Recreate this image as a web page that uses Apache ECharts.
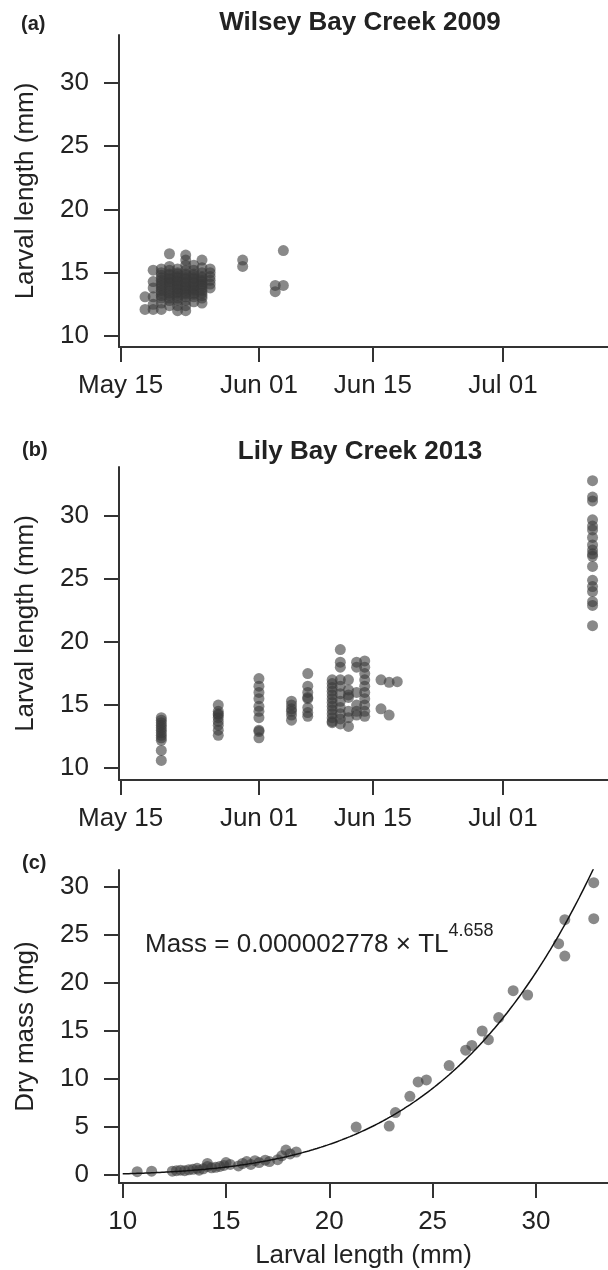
<!DOCTYPE html>
<html>
<head>
<meta charset="utf-8">
<script src="https://cdn.jsdelivr.net/npm/echarts@6/dist/echarts.min.js"></script>
<style>
    html, body { margin: 0; padding: 0; background: #fff; }
    #chart { width: 608px; height: 1270px; }
</style>
</head>
<body>
<div id="chart"></div>
<script>
// Larval length by sampling date (a, b) and dry mass vs length (c)

// x axis of panels a and b
var dateTicks = ['05-15', '06-01', '06-15', '07-01'];
var dateTickLabels = ['May 15', 'Jun 01', 'Jun 15', 'Jul 01'];
var lengthTicks = [10, 15, 20, 25, 30];
var massTicks = [0, 5, 10, 15, 20, 25, 30];

// (a) Wilsey Bay Creek 2009: sample dates and larval lengths (mm) on each date
var wilseyDates = ['05-18', '05-19', '05-20', '05-21', '05-22', '05-23', '05-24', '05-25', '05-26', '05-30', '06-03', '06-04'];
var wilseyLengths = [
    [12.1, 13.1],
    [12.1, 12.5, 13.1, 13.8, 14.3, 15.2],
    [12.1, 12.6, 13.0, 13.2, 13.4, 13.6, 13.8, 14.0, 14.2, 14.4, 14.6, 14.8, 15.0, 15.3],
    [12.4, 12.8, 13.0, 13.2, 13.4, 13.6, 13.8, 14.0, 14.2, 14.3, 14.5, 14.6, 14.8, 14.9, 15.2, 15.5, 16.5],
    [12.0, 12.4, 12.8, 13.0, 13.2, 13.4, 13.5, 13.7, 13.8, 14.0, 14.1, 14.3, 14.4, 14.6, 14.7, 14.9, 15.0, 15.3],
    [12.0, 12.4, 12.8, 13.1, 13.3, 13.4, 13.6, 13.7, 13.9, 14.0, 14.2, 14.3, 14.5, 14.6, 14.8, 14.9, 15.2, 15.6, 16.0, 16.4],
    [12.7, 13.1, 13.3, 13.4, 13.6, 13.7, 13.9, 14.0, 14.2, 14.3, 14.5, 14.6, 14.8, 14.9, 15.2, 15.6],
    [12.6, 13.0, 13.2, 13.4, 13.6, 13.8, 14.0, 14.1, 14.3, 14.4, 14.6, 14.7, 15.0, 15.4, 16.0],
    [13.8, 14.1, 14.4, 14.7, 15.0, 15.3],
    [15.5, 16.0],
    [13.5, 14.0],
    [14.0, 16.75]
];

// (b) Lily Bay Creek 2013
var lilyDates = ['05-20', '05-27', '06-01', '06-05', '06-07', '06-10', '06-11', '06-12', '06-13', '06-14', '06-16', '06-17', '06-18', '07-12'];
var lilyLengths = [
    [14.0, 13.8, 13.6, 13.4, 13.2, 13.0, 12.8, 12.6, 12.4, 12.2, 11.4, 10.6],
    [15.0, 14.5, 14.3, 14.2, 14.0, 13.7, 13.4, 13.0, 12.6],
    [17.1, 16.5, 16.0, 15.5, 14.9, 14.5, 14.0, 13.0, 12.9, 12.4],
    [15.3, 15.0, 14.7, 14.5, 14.2, 13.8],
    [17.5, 16.5, 16.0, 15.6, 15.5, 14.8, 14.4, 14.1],
    [17.0, 16.7, 16.4, 16.1, 15.8, 15.5, 15.2, 14.9, 14.6, 14.3, 14.0, 13.7, 13.6],
    [19.4, 18.4, 18.0, 17.0, 16.5, 15.9, 15.3, 14.8, 14.3, 13.9, 13.5],
    [17.0, 16.2, 15.8, 15.6, 14.5, 14.0, 13.3],
    [18.4, 18.0, 16.0, 15.0, 14.5, 14.2],
    [18.5, 18.0, 17.5, 17.0, 16.5, 16.0, 15.5, 15.0, 14.5, 14.1],
    [17.0, 14.7],
    [16.8, 14.2],
    [16.85],
    [32.8, 31.5, 31.2, 29.7, 29.2, 28.9, 28.3, 27.7, 27.3, 27.0, 26.8, 26.0, 24.9, 24.4, 24.0, 23.2, 22.9, 21.3]
];

// (c) dry mass (mg) against larval length (mm)
var dryLength = [10.7, 11.4, 12.4, 12.6, 12.8, 13.0, 13.2, 13.4, 13.6, 13.7, 13.9, 14.1, 14.1, 14.3, 14.5, 14.7,
    14.9, 15.0, 15.2, 15.6, 15.8, 16.0, 16.2, 16.4, 16.6, 16.9, 17.1, 17.5, 17.7, 17.9, 18.1, 18.4,
    21.3, 22.9, 23.2, 23.9, 24.3, 24.7, 25.8, 26.6, 26.9, 27.4, 27.7, 28.2, 28.9, 29.6, 31.1, 31.4, 31.4, 32.8, 32.8];
var dryMass = [0.35, 0.4, 0.4, 0.45, 0.5, 0.45, 0.55, 0.6, 0.7, 0.5, 0.65, 0.9, 1.2, 0.75, 0.8, 0.9,
    1.0, 1.3, 1.1, 0.95, 1.2, 1.4, 1.1, 1.5, 1.3, 1.55, 1.4, 1.6, 2.0, 2.6, 2.2, 2.4,
    5.0, 5.1, 6.5, 8.2, 9.7, 9.9, 11.4, 13.0, 13.5, 15.0, 14.1, 16.4, 19.2, 18.75, 24.1, 22.8, 26.6, 26.7, 30.45];

// fitted curve: Mass = a * TL^b
var fitCoef = 0.000002778;
var fitExp = 4.658;

(function() {
    'use strict';

    var textColor = '#222';
    var axisColor = '#333';
    var fontFamily = '"Liberation Sans", Arial, sans-serif';

    function dayOf(md) {
        var p = md.split('-');
        return (Date.UTC(2000, +p[0] - 1, +p[1]) - Date.UTC(2000, 4, 15)) / 86400000;
    }

    var dateTickDays = dateTicks.map(dayOf);

    function byDate(dates, lengths) {
        var out = [];
        dates.forEach(function(d, i) {
            lengths[i].forEach(function(v) {
                out.push([dayOf(d), v]);
            });
        });
        return out;
    }

    function axisBase(gridIndex, min, max, ticks, margin) {
        return {
            type: 'value',
            gridIndex: gridIndex,
            min: min,
            max: max,
            splitLine: { show: false },
            axisLine: { show: true, onZero: false, lineStyle: { color: axisColor, width: 2 } },
            axisTick: { show: true, inside: false, length: 15, customValues: ticks,
                lineStyle: { color: axisColor, width: 2 } },
            axisLabel: { customValues: ticks, margin: margin, fontSize: 26,
                color: textColor, fontFamily: fontFamily }
        };
    }

    function dateAxis(gridIndex) {
        var ax = axisBase(gridIndex, -0.2, 59.9, dateTickDays, 26);
        ax.axisLabel.formatter = function(v) {
            return dateTickLabels[dateTickDays.indexOf(v)];
        };
        return ax;
    }

    function yAxis(gridIndex, min, max, ticks, name) {
        var ax = axisBase(gridIndex, min, max, ticks, 30);
        ax.name = name;
        ax.nameLocation = 'middle';
        ax.nameGap = 80;
        ax.nameTextStyle = { fontSize: 26, color: textColor, fontFamily: fontFamily };
        return ax;
    }

    var pointStyle = { color: '#3a3a3a', opacity: 0.6 };

    var curve = [];
    for (var L = 10; L <= 33.6; L += 0.1) {
        curve.push([L, fitCoef * Math.pow(L, fitExp)]);
    }

    var cData = dryLength.map(function(l, i) { return [l, dryMass[i]]; });

    var xC = axisBase(2, 9.82, 33.49, lengthTicks, 26);
    xC.name = 'Larval length (mm)';
    xC.nameLocation = 'middle';
    xC.nameGap = 60;
    xC.nameTextStyle = { fontSize: 26, color: textColor, fontFamily: fontFamily };

    function label(text, x, y, size, align) {
        return {
            type: 'text', x: x, y: y,
            style: { text: text, fill: textColor, align: align || 'left',
                verticalAlign: 'middle', fontSize: size, fontWeight: 'bold', fontFamily: fontFamily }
        };
    }

    var chart = echarts.init(document.getElementById('chart'));

    var option = {
        animation: false,
        grid: [
            { left: 119, right: 0, top: 35, height: 312 },
            { left: 119, right: 0, top: 467, height: 313 },
            { left: 119, right: 0, top: 870, height: 313 }
        ],
        xAxis: [dateAxis(0), dateAxis(1), xC],
        yAxis: [
            yAxis(0, 9.13, 33.79, lengthTicks, 'Larval length (mm)'),
            yAxis(1, 9.05, 33.89, lengthTicks, 'Larval length (mm)'),
            yAxis(2, -0.83, 31.77, massTicks, 'Dry mass (mg)')
        ],
        graphic: [
            label('(a)', 21, 24, 20),
            label('(b)', 22, 450, 20),
            label('(c)', 22, 863, 20),
            label('Wilsey Bay Creek 2009', 360, 23, 26, 'center'),
            label('Lily Bay Creek 2013', 360, 452, 26, 'center'),
            {
                type: 'text', x: 145, y: 940,
                style: {
                    text: '{m|Mass = 0.000002778 \u00d7 TL}{s|4.658}',
                    fill: textColor,
                    verticalAlign: 'middle',
                    fontFamily: fontFamily,
                    rich: {
                        m: { fontSize: 26, lineHeight: 36, verticalAlign: 'bottom', fontFamily: fontFamily, fill: textColor },
                        s: { fontSize: 18, lineHeight: 18, verticalAlign: 'top', fontFamily: fontFamily, fill: textColor }
                    }
                }
            }
        ],
        series: [
            { type: 'scatter', xAxisIndex: 0, yAxisIndex: 0, symbolSize: 11,
                itemStyle: pointStyle, data: byDate(wilseyDates, wilseyLengths) },
            { type: 'scatter', xAxisIndex: 1, yAxisIndex: 1, symbolSize: 11,
                itemStyle: pointStyle, data: byDate(lilyDates, lilyLengths) },
            { type: 'scatter', xAxisIndex: 2, yAxisIndex: 2, symbolSize: 11,
                itemStyle: pointStyle, data: cData },
            { type: 'line', xAxisIndex: 2, yAxisIndex: 2, showSymbol: false, symbol: 'none',
                clip: true, z: 5, lineStyle: { color: '#111', width: 1.5 }, data: curve }
        ]
    };

    chart.setOption(option);
})();
</script>
</body>
</html>
